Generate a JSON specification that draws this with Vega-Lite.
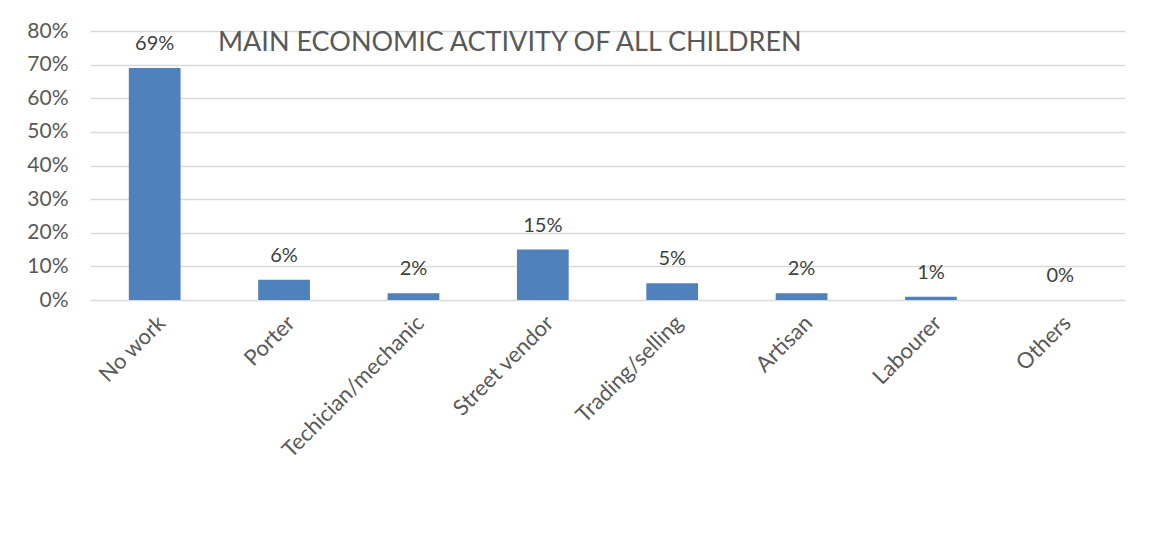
{
  "$schema": "https://vega.github.io/schema/vega-lite/v6.json",
  "autosize": "none",
  "width": 1035,
  "height": 269,
  "padding": {"left": 90, "top": 31, "right": 43, "bottom": 245},
  "background": "white",
  "data": {"values": [
    {"activity": "No work", "share": 0.69},
    {"activity": "Porter", "share": 0.06},
    {"activity": "Techician/mechanic", "share": 0.02},
    {"activity": "Street vendor", "share": 0.15},
    {"activity": "Trading/selling", "share": 0.05},
    {"activity": "Artisan", "share": 0.02},
    {"activity": "Labourer", "share": 0.01},
    {"activity": "Others", "share": 0.0}
  ]},
  "title": {
    "text": "MAIN ECONOMIC ACTIVITY OF ALL CHILDREN",
    "anchor": "start",
    "frame": "group",
    "dx": 128,
    "offset": -37,
    "fontSize": 27,
    "fontWeight": "normal",
    "font": "Lato",
    "color": "#595959"
  },
  "encoding": {
    "x": {
      "field": "activity", "type": "nominal", "sort": null,
      "scale": {"paddingInner": 0.6, "paddingOuter": 0.3},
      "axis": {
        "title": null, "labelAngle": -45, "labelFontSize": 22, "labelFont": "Lato",
        "labelColor": "#595959", "ticks": false, "domain": false, "labelPadding": 12, "grid": false,
        "labelLimit": 400
      }
    },
    "y": {
      "field": "share", "type": "quantitative",
      "scale": {"domain": [0, 0.8]},
      "axis": {
        "title": null, "format": ".0%", "values": [0, 0.1, 0.2, 0.3, 0.4, 0.5, 0.6, 0.7, 0.8],
        "labelFontSize": 21, "labelFont": "Lato", "labelColor": "#595959",
        "ticks": false, "domain": false, "labelPadding": 22,
        "grid": true, "gridColor": "#d9d9d9", "gridWidth": 1.5
      }
    }
  },
  "layer": [
    {"mark": {"type": "bar", "color": "#4f81bd"}},
    {
      "mark": {"type": "text", "baseline": "bottom", "dy": -14, "fontSize": 20, "font": "Lato", "color": "#404040"},
      "encoding": {"text": {"field": "share", "type": "quantitative", "format": ".0%"}}
    }
  ],
  "config": {"view": {"stroke": null}}
}
